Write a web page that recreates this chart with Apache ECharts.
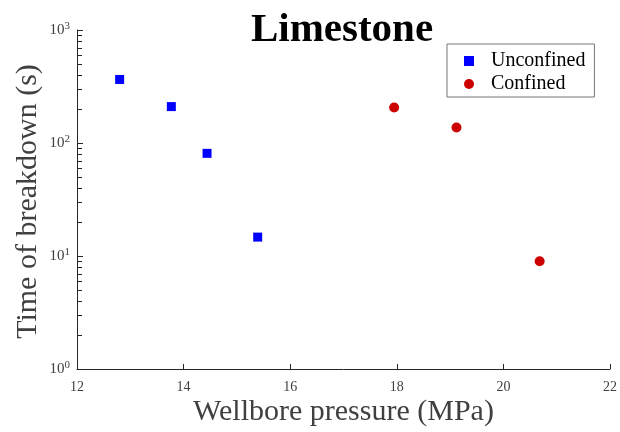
<!DOCTYPE html>
<html>
<head>
<meta charset="utf-8">
<script src="https://cdn.jsdelivr.net/npm/echarts@6/dist/echarts.min.js"></script>
<style>
  html, body { margin: 0; padding: 0; background: #fff; }
  #chart { width: 620px; height: 432px; }
</style>
</head>
<body>
<div id="chart"></div>
<script>
// Breakdown time against wellbore pressure, limestone samples
const unconfinedPressure = [12.8, 13.77, 14.44, 15.39];
const unconfinedTime = [365, 210, 81, 14.7];
const confinedPressure = [17.95, 19.12, 20.68];
const confinedTime = [206, 137, 9.0];

// Axis ranges and tick labels
const xMin = 12, xMax = 22, xStep = 2;
const yMin = 1, yMax = 1000;
const yTickValues = [1, 10, 100, 1000];
const yTickExponents = ['0', '1', '2', '3'];
// Intermediate log-decade ticks (2..9 of each decade)
const yMinorTicks = [2, 3, 4, 5, 6, 7, 8, 9, 20, 30, 40, 50, 60, 70, 80, 90, 200, 300, 400, 500, 600, 700, 800, 900];

const FONT = 'Liberation Serif';
const AXIS_COLOR = '#262626';
const TEXT_COLOR = '#404040';

const chart = echarts.init(document.getElementById('chart'), null, { renderer: 'canvas' });

chart.setOption({
  backgroundColor: '#ffffff',
  animation: false,
  title: {
    text: 'Limestone',
    left: 337,
    textAlign: 'center',
    top: 5,
    textStyle: { fontFamily: FONT, fontWeight: 'bold', fontSize: 41, color: '#000' }
  },
  legend: {
    orient: 'vertical',
    left: 447,
    top: 44,
    padding: [7, 9, 3, 17],
    itemGap: 3,
    itemWidth: 34,
    itemHeight: 10,
    borderColor: '#777',
    borderWidth: 1,
    backgroundColor: '#fff',
    textStyle: { fontFamily: FONT, fontSize: 20, color: '#000' },
    data: [
      { name: 'Unconfined', icon: 'path://M0,0H10V10H0Z' },
      { name: 'Confined', icon: 'circle' }
    ]
  },
  grid: { left: 77, right: 9, top: 30, bottom: 63, containLabel: false },
  xAxis: {
    type: 'value',
    min: xMin,
    max: xMax,
    interval: xStep,
    name: 'Wellbore pressure (MPa)',
    nameLocation: 'middle',
    nameMoveOverlap: false,
    nameGap: 28,
    nameTextStyle: { fontFamily: FONT, fontSize: 30, color: TEXT_COLOR },
    axisLine: { show: true, lineStyle: { color: AXIS_COLOR, width: 1 } },
    axisTick: { show: true, inside: true, length: 5, lineStyle: { color: AXIS_COLOR } },
    axisLabel: { fontFamily: FONT, fontSize: 14, color: TEXT_COLOR, margin: 11 },
    splitLine: { show: false }
  },
  yAxis: {
    type: 'log',
    logBase: 10,
    min: yMin,
    max: yMax,
    name: 'Time of breakdown (s)',
    nameLocation: 'middle',
    nameMoveOverlap: false,
    nameGap: 34,
    nameTextStyle: { fontFamily: FONT, fontSize: 30, color: TEXT_COLOR, padding: [0, 4, 0, 0] },
    axisLine: { show: true, lineStyle: { color: AXIS_COLOR, width: 1 } },
    axisTick: { show: true, inside: true, length: 6, lineStyle: { color: AXIS_COLOR } },
    axisLabel: {
      margin: 7,
      formatter: function (v) {
        const i = yTickValues.indexOf(Math.round(v));
        const exp = i >= 0 ? yTickExponents[i] : '';
        return '{b|10}{s|' + exp + '}';
      },
      rich: {
        b: { fontFamily: FONT, fontSize: 15, color: TEXT_COLOR },
        s: { fontFamily: FONT, fontSize: 11, color: TEXT_COLOR, verticalAlign: 'top', padding: [0, 0, 8, 0] }
      }
    },
    splitLine: { show: false }
  },
  series: [
    {
      name: 'Unconfined',
      type: 'scatter',
      symbol: 'rect',
      symbolSize: 9,
      itemStyle: { color: '#0000ff', opacity: 1 },
      data: unconfinedPressure.map((p, i) => [p, unconfinedTime[i]])
    },
    {
      name: 'Confined',
      type: 'scatter',
      symbol: 'circle',
      symbolSize: 10,
      itemStyle: { color: '#cc0000', opacity: 1 },
      data: confinedPressure.map((p, i) => [p, confinedTime[i]])
    },
    {
      name: 'minorTicks',
      type: 'custom',
      silent: true,
      clip: false,
      data: yMinorTicks.map(v => [xMin, v]),
      renderItem: function (params, api) {
        const p = api.coord([api.value(0), api.value(1)]);
        const y = Math.round(p[1]) + 0.5;
        return {
          type: 'line',
          shape: { x1: p[0], y1: y, x2: p[0] + 5, y2: y },
          style: { stroke: AXIS_COLOR, lineWidth: 1 }
        };
      }
    }
  ]
});
</script>
</body>
</html>
